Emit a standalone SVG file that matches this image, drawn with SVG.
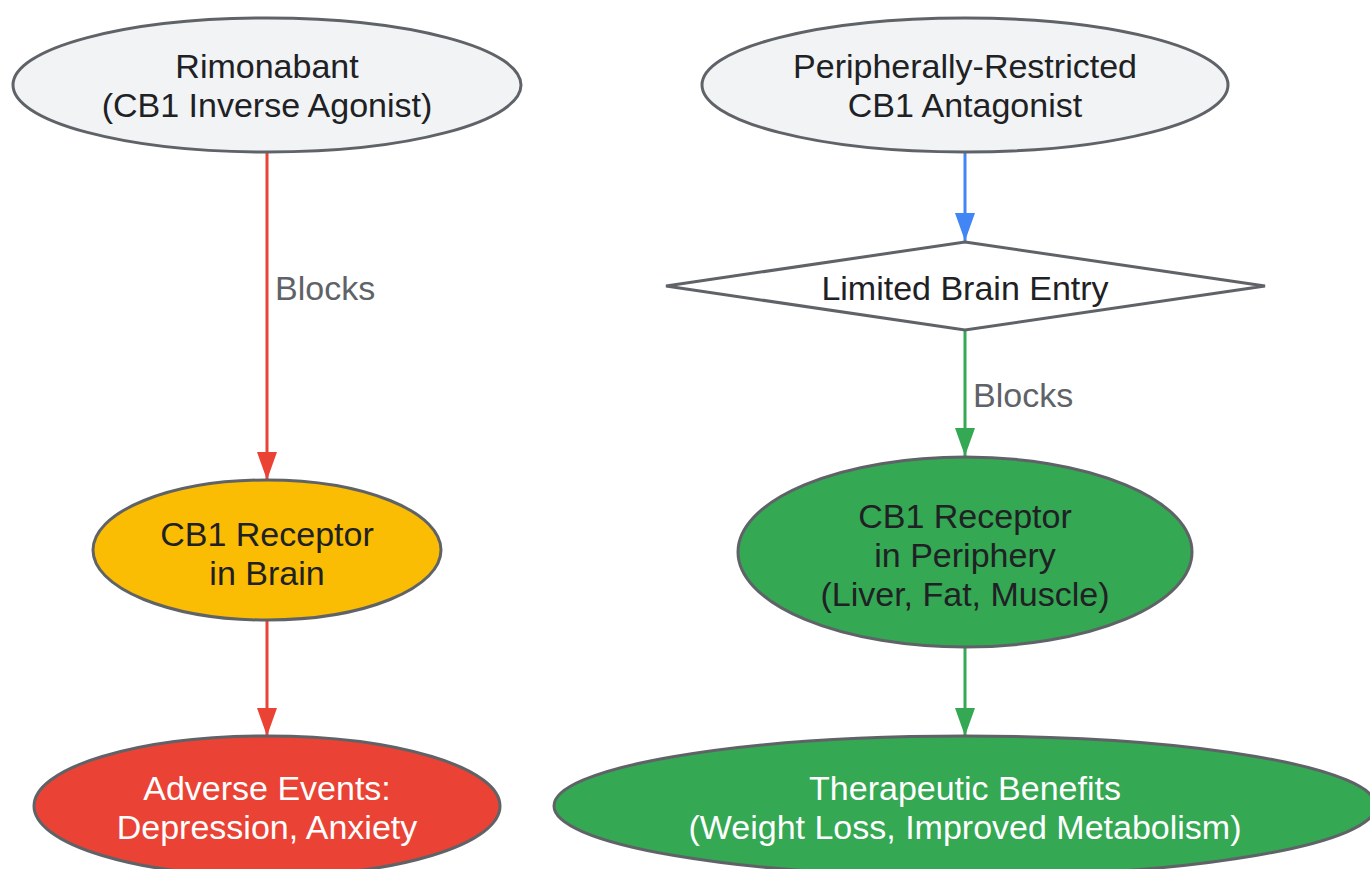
<svg xmlns="http://www.w3.org/2000/svg" width="1370" height="869" viewBox="0 0 1370 869">
<defs>
<style>
.n{stroke:#5f6368;stroke-width:3}
.t{font-family:"Liberation Sans",Arial,sans-serif;font-size:34px;text-anchor:middle;fill:#202124}
.w{fill:#ffffff}
.l{font-family:"Liberation Sans",Arial,sans-serif;font-size:34px;fill:#5f6368}
.e{fill:none;stroke-width:3}
</style>
<marker id="ab" viewBox="0 0 28 20" refX="28" refY="10" markerWidth="28" markerHeight="20" markerUnits="userSpaceOnUse" orient="auto"><path d="M0,0 L28,10 L0,20 Z" fill="#4285f4"/></marker>
<marker id="ag" viewBox="0 0 28 20" refX="28" refY="10" markerWidth="28" markerHeight="20" markerUnits="userSpaceOnUse" orient="auto"><path d="M0,0 L28,10 L0,20 Z" fill="#34a853"/></marker>
<marker id="ar2" viewBox="0 0 28 20" refX="28" refY="10" markerWidth="28" markerHeight="20" markerUnits="userSpaceOnUse" orient="auto"><path d="M0,0 L28,10 L0,20 Z" fill="#ea4335"/></marker>
</defs>
<rect width="1370" height="869" fill="#ffffff"/>
<g id="connectors">
<path class="e" d="M267,152 L267,480" stroke="#ea4335" marker-end="url(#ar2)"/>
<path class="e" d="M267,620 L267,736" stroke="#ea4335" marker-end="url(#ar2)"/>
<path class="e" d="M965,152 L965,241" stroke="#4285f4" marker-end="url(#ab)"/>
<path class="e" d="M965,330 L965,456" stroke="#34a853" marker-end="url(#ag)"/>
<path class="e" d="M965,647 L965,736" stroke="#34a853" marker-end="url(#ag)"/>
<text class="l" x="275" y="300">Blocks</text>
<text class="l" x="973" y="407">Blocks</text>
</g>
<g id="rimonabant">
<ellipse class="n" cx="267" cy="85" rx="254" ry="67" fill="#f1f3f4"/>
<text class="t" x="267" y="78">Rimonabant</text>
<text class="t" x="267" y="117">(CB1 Inverse Agonist)</text>
</g>
<g id="peripheral">
<ellipse class="n" cx="965" cy="85" rx="263" ry="67" fill="#f1f3f4"/>
<text class="t" x="965" y="78">Peripherally-Restricted</text>
<text class="t" x="965" y="117">CB1 Antagonist</text>
</g>
<g id="limited">
<polygon class="n" points="965,242 1265,286 965,330 666,286" fill="#ffffff"/>
<text class="t" x="965" y="300">Limited Brain Entry</text>
</g>
<g id="cb1brain">
<ellipse class="n" cx="267" cy="550" rx="174" ry="70" fill="#fbbc04"/>
<text class="t" x="267" y="546">CB1 Receptor</text>
<text class="t" x="267" y="585">in Brain</text>
</g>
<g id="cb1periphery">
<ellipse class="n" cx="965" cy="552" rx="227" ry="95" fill="#34a853"/>
<text class="t" x="965" y="528">CB1 Receptor</text>
<text class="t" x="965" y="567">in Periphery</text>
<text class="t" x="965" y="606">(Liver, Fat, Muscle)</text>
</g>
<g id="adverse">
<ellipse class="n" cx="267" cy="806" rx="233" ry="70" fill="#ea4335"/>
<text class="t w" x="267" y="800">Adverse Events:</text>
<text class="t w" x="267" y="839">Depression, Anxiety</text>
</g>
<g id="therapeutic">
<ellipse class="n" cx="965" cy="806" rx="411" ry="70" fill="#34a853"/>
<text class="t w" x="965" y="800">Therapeutic Benefits</text>
<text class="t w" x="965" y="839">(Weight Loss, Improved Metabolism)</text>
</g>
</svg>
